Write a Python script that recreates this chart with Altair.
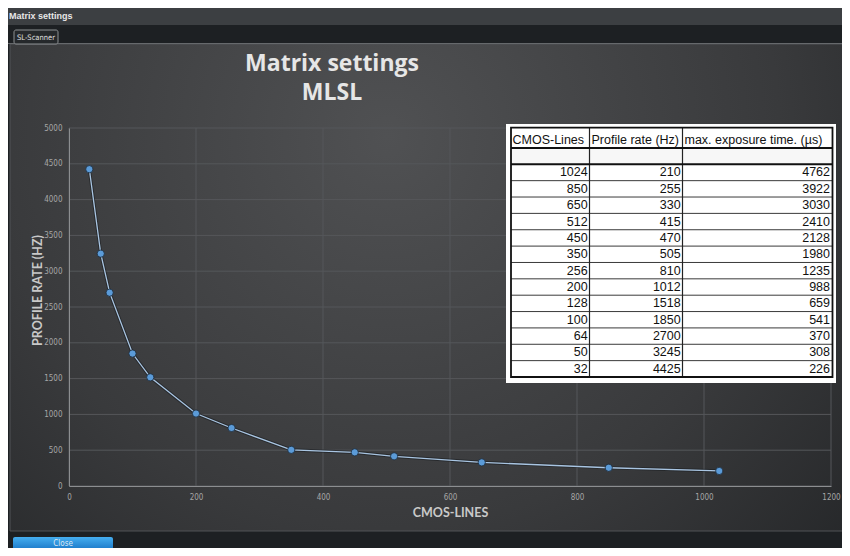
import altair as alt
import pandas as pd

# ---- data ----
cmos_lines = [1024, 850, 650, 512, 450, 350, 256, 200, 128, 100, 64, 50, 32]
profile_rate = [210, 255, 330, 415, 470, 505, 810, 1012, 1518, 1850, 2700, 3245, 4425]
exposure_time = [4762, 3922, 3030, 2410, 2128, 1980, 1235, 988, 659, 541, 370, 308, 226]
table_headers = ["CMOS-Lines", "Profile rate (Hz)", "max. exposure time. (µs)"]
x_ticks = [0, 200, 400, 600, 800, 1000, 1200]
y_ticks = [0, 500, 1000, 1500, 2000, 2500, 3000, 3500, 4000, 4500, 5000]
title_lines = ["Matrix settings", "MLSL"]
window_title = "Matrix settings"
tab_label = "SL-Scanner"
button_label = "Close"
x_title = "CMOS-LINES"
y_title = "PROFILE RATE (HZ)"

# ---- layout (page pixels -> plot coords) ----
OX, OY = 69, 128          # plot origin on the page
W, H = 762, 358


def X(px):
    return px - OX


def Y(py):
    return py - OY


one = pd.DataFrame({"k": [0]})
TICK_FONT = "Liberation Sans Narrow, DejaVu Sans Condensed, Roboto"


def box(x0, y0, x1, y1, **kw):
    return alt.Chart(one).mark_rect(**kw).encode(
        x=alt.value(X(x0)), x2=alt.value(X(x1)), y=alt.value(Y(y0)), y2=alt.value(Y(y1)))


def hline(x0, x1, y, **kw):
    return alt.Chart(one).mark_rule(**kw).encode(
        x=alt.value(X(x0)), x2=alt.value(X(x1)), y=alt.value(Y(y)))


def vline(x, y0, y1, **kw):
    return alt.Chart(one).mark_rule(**kw).encode(
        x=alt.value(X(x)), y=alt.value(Y(y0)), y2=alt.value(Y(y1)))


def label(x, y, text, **kw):
    return alt.Chart(one).mark_text(text=text, **kw).encode(
        x=alt.value(X(x)), y=alt.value(Y(y)))


panel_gradient = {
    "gradient": "radial",
    "x1": 0.45, "y1": 0.32, "r1": 0,
    "x2": 0.45, "y2": 0.32, "r2": 0.85,
    "stops": [
        {"offset": 0, "color": "#505153"},
        {"offset": 0.55, "color": "#393a3c"},
        {"offset": 1, "color": "#1e2022"},
    ],
}
button_gradient = {
    "gradient": "linear", "x1": 0, "y1": 0, "x2": 0, "y2": 1,
    "stops": [{"offset": 0, "color": "#45aef0"}, {"offset": 1, "color": "#1773c4"}],
}

chrome = [
    box(0, 7, 850, 25, fill="#3c3f42"),
    label(9, 16, window_title, font="Liberation Sans", fontSize=9, fontWeight="bold",
          color="#e8e8e8", align="left", baseline="middle"),
    box(10, 44, 849, 531, fill=panel_gradient, stroke="#505356", strokeWidth=1),
    hline(0, 850, 43.5, color="#66696c", strokeWidth=1),
    box(14, 30, 58, 44, fill="#25282b", stroke="#8d9093", strokeWidth=1, cornerRadius=2),
    label(36, 37.5, tab_label, font=TICK_FONT, fontSize=7.5, color="#e0e0e0",
          align="center", baseline="middle"),
    box(13, 537, 113, 551, fill=button_gradient, cornerRadius=2),
    label(63, 544, button_label, font=TICK_FONT, fontSize=8, color="#dde8f2",
          align="center", baseline="middle"),
]

x_axis = alt.Axis(values=x_ticks, format="d", grid=False, ticks=False, domainColor="#8c8e90",
                  labelColor="#a6a6a6", labelFont=TICK_FONT, labelFontSize=8,
                  labelPadding=7, labelFlush=False, title=x_title, titleFont="Lato",
                  titleFontWeight="bold", titleFontSize=12.5, titleColor="#c9c9c9",
                  titleY=26, titleBaseline="middle", zindex=1)
y_axis = alt.Axis(values=y_ticks, format="d", grid=False, ticks=False, domainColor="#8c8e90",
                  labelColor="#a6a6a6", labelFont=TICK_FONT, labelFontSize=8,
                  labelPadding=7, title=y_title, titleFont="Lato",
                  titleFontWeight="bold", titleFontSize=12.5, titleColor="#c9c9c9",
                  titleX=-32, titleY=162, titleBaseline="middle", zindex=1)
xenc = alt.X("x:Q", scale=alt.Scale(domain=[0, 1200], nice=False), axis=x_axis)
yenc = alt.Y("y:Q", scale=alt.Scale(domain=[0, 5000], nice=False), axis=y_axis)

grid = [
    alt.Chart(pd.DataFrame({"x": x_ticks})).mark_rule(color="#55575a", strokeWidth=1).encode(
        x=xenc, y=alt.value(0), y2=alt.value(H)),
    alt.Chart(pd.DataFrame({"y": y_ticks})).mark_rule(color="#55575a", strokeWidth=1).encode(
        y=yenc, x=alt.value(0), x2=alt.value(W)),
]

series_df = pd.DataFrame({"x": cmos_lines, "y": profile_rate})
series = [
    alt.Chart(series_df).mark_line(color="#15191e", strokeWidth=3.2, opacity=0.55).encode(x=xenc, y=yenc),
    alt.Chart(series_df).mark_line(color="#a9c5e2", strokeWidth=1.3).encode(x=xenc, y=yenc),
    alt.Chart(series_df).mark_circle(size=52, fill="#5b9bd8", stroke="#1c2a38",
                                     strokeWidth=0.8, opacity=1).encode(x=xenc, y=yenc),
]

# ---- table ----
tbl = pd.DataFrame({"i": list(range(len(cmos_lines))), "c1": cmos_lines,
                    "c2": profile_rate, "c3": exposure_time})
T_LEFT, T_D1, T_D2, T_RIGHT = 511, 589.5, 682.5, 832.5
T_TOP, T_HEAD, T_DATA, T_BOT = 127.7, 148, 164.3, 377
ROW = (T_BOT - T_DATA) / 13

base_rows = alt.Chart(tbl).transform_calculate(
    ty=f"{Y(T_DATA) + ROW / 2} + datum.i * {ROW}",
    ry=f"{Y(T_DATA)} + datum.i * {ROW}",
)
row_lines = base_rows.transform_filter("datum.i > 0").mark_rule(
    color="#3a3a3a", strokeWidth=1).encode(
    y=alt.Y("ry:Q", scale=None, axis=None), x=alt.value(X(T_LEFT)), x2=alt.value(X(T_RIGHT)))

TFONT = "Liberation Sans, Arial"
cells = []
for col, right in (("c1", 587.7), ("c2", 680.7), ("c3", 830)):
    cells.append(base_rows.mark_text(font=TFONT, fontSize=12.5, color="#111111", align="right",
                                     baseline="middle").encode(
        y=alt.Y("ty:Q", scale=None, axis=None), x=alt.value(X(right)), text=f"{col}:N"))

table = [
    box(506, 124, 836, 383, fill="#ffffff"),
    box(T_LEFT, T_HEAD, T_RIGHT, T_DATA, fill="#f7f7f7"),
    row_lines,
    vline(T_D1, T_TOP, T_BOT, color="#222222", strokeWidth=1.2),
    vline(T_D2, T_TOP, T_BOT, color="#222222", strokeWidth=1.2),
    hline(T_LEFT, T_RIGHT, T_HEAD, color="#111111", strokeWidth=2),
    hline(T_LEFT, T_RIGHT, T_DATA, color="#111111", strokeWidth=2),
    box(T_LEFT, T_TOP, T_RIGHT, T_BOT, fill=None, fillOpacity=0, stroke="#111111", strokeWidth=1.8),
    label(512.5, 139.5, table_headers[0], font=TFONT, fontSize=12.5, color="#111111",
          align="left", baseline="middle"),
    label(591.5, 139.5, table_headers[1], font=TFONT, fontSize=12.5, color="#111111",
          align="left", baseline="middle"),
    label(684.5, 139.5, table_headers[2], font=TFONT, fontSize=12.5, color="#111111",
          align="left", baseline="middle"),
] + cells

titles = [
    label(332, 64, title_lines[0], font="Open Sans", fontSize=23, fontWeight="bold",
          color="#e6e6e6", align="center", baseline="middle"),
    label(332, 93, title_lines[1], font="Open Sans", fontSize=23, fontWeight="bold",
          color="#e6e6e6", align="center", baseline="middle"),
]

chart = alt.layer(*(chrome + grid + series + table + titles)).properties(
    width=W, height=H,
    autosize=alt.AutoSizeParams(type="none"),
    padding={"left": 61, "top": 120, "right": 11, "bottom": 62},
    background="#1d2023",
).configure_view(stroke=None)

chart.save("out.html", embed_options={"renderer": "svg", "actions": False})
